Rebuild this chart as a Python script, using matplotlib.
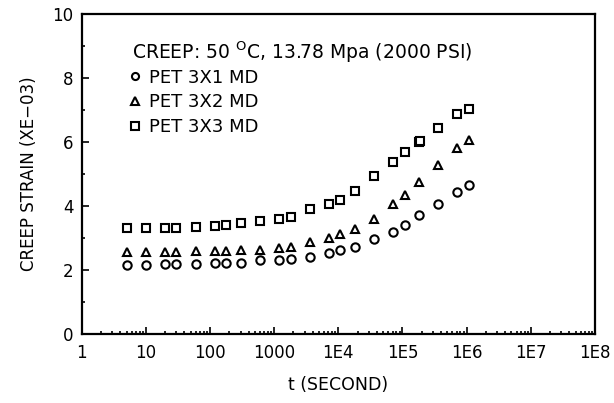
import matplotlib
matplotlib.use("Agg")
import matplotlib.pyplot as plt
from matplotlib.ticker import LogLocator, FixedLocator, FixedFormatter, MultipleLocator

plt.rcParams['font.family'] = ['DejaVu Sans']

# time in seconds
t = [5, 10, 20, 30, 60, 120, 180, 300, 600, 1200, 1800, 3600, 7200, 10800,
     18000, 36000, 72000, 108000, 180000, 360000, 720000, 1080000]

strain_3x1 = [2.15, 2.15, 2.18, 2.18, 2.18, 2.21, 2.22, 2.23, 2.3, 2.31, 2.35,
              2.42, 2.54, 2.62, 2.72, 2.96, 3.2, 3.41, 3.72, 4.06, 4.45, 4.66]
strain_3x2 = [2.55, 2.55, 2.55, 2.55, 2.6, 2.6, 2.6, 2.62, 2.64, 2.7, 2.72,
              2.87, 3.01, 3.12, 3.29, 3.59, 4.05, 4.35, 4.74, 5.28, 5.83, 6.06]
strain_3x3 = [3.3, 3.3, 3.31, 3.33, 3.35, 3.39, 3.42, 3.46, 3.52, 3.6, 3.67,
              3.9, 4.06, 4.2, 4.48, 4.95, 5.39, 5.68, 6.01, 6.43, 6.87, 7.02]

# the bold square near 2E5 looks like two overlapping points
extra_t = [186000]
extra_3x3 = [6.04]

labels = ["PET 3X1 MD", "PET 3X2 MD", "PET 3X3 MD"]
x_ticks = [1, 10, 100, 1000, 1e4, 1e5, 1e6, 1e7, 1e8]
x_ticklabels = ["1", "10", "100", "1000", "1E4", "1E5", "1E6", "1E7", "1E8"]

fig = plt.figure(figsize=(6.14, 4.03), dpi=100)
ax = fig.add_axes([0.133, 0.171, 0.836, 0.794])

mk = dict(linestyle='none', markerfacecolor='white', markeredgecolor='black',
          markeredgewidth=1.5, markersize=6)
ax.plot(t, strain_3x1, marker='o', label=labels[0], **mk)
ax.plot(t, strain_3x2, marker='^', label=labels[1], **mk)
ax.plot(t, strain_3x3, marker='s', label=labels[2], **mk)
ax.plot(extra_t, extra_3x3, marker='s', **mk)

ax.set_xscale('log')
ax.set_xlim(1, 1e8)
ax.set_ylim(0, 10)

ax.xaxis.set_major_locator(FixedLocator(x_ticks))
ax.xaxis.set_major_formatter(FixedFormatter(x_ticklabels))
ax.xaxis.set_minor_locator(LogLocator(base=10, subs=range(2, 10), numticks=20))
ax.yaxis.set_major_locator(MultipleLocator(2))
ax.yaxis.set_minor_locator(MultipleLocator(1))

ax.tick_params(which='both', direction='in', top=False, right=False,
               labelsize=12, width=1.2)
ax.tick_params(which='major', length=5)
ax.tick_params(which='minor', length=2.5)
ax.tick_params(axis='x', pad=7)
ax.tick_params(axis='y', pad=6)

for s in ax.spines.values():
    s.set_linewidth(1.6)

ax.set_xlabel("t (SECOND)", fontsize=12.5, labelpad=10)
ax.set_ylabel("CREEP STRAIN (XE\u221203)", fontsize=12, labelpad=10)

ax.text(0.098, 0.881, r"CREEP: 50 $^{\rm O}$C, 13.78 Mpa (2000 PSI)",
        transform=ax.transAxes, fontsize=13.5, va='center')

leg = ax.legend(loc='upper left', bbox_to_anchor=(0.088, 0.83), frameon=False,
                fontsize=13, handletextpad=0.35, handlelength=0.9,
                labelspacing=0.38, borderaxespad=0, borderpad=0,
                markerscale=0.85)

fig.savefig("out.png", dpi=100)
